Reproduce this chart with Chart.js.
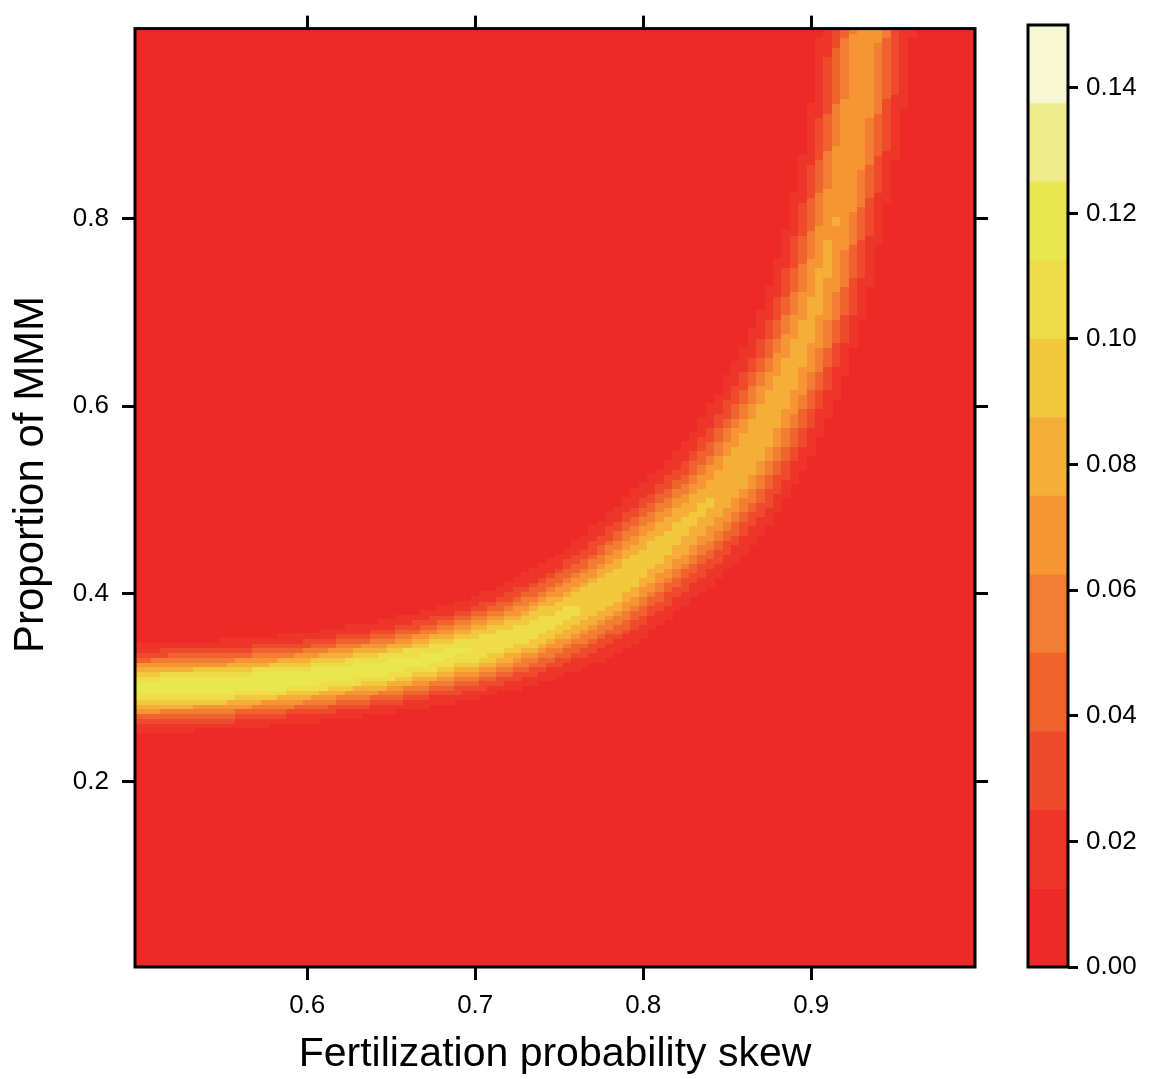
<!DOCTYPE html>
<html>
<head>
<meta charset="utf-8">
<script src="https://cdn.jsdelivr.net/npm/chart.js@4.4.1/dist/chart.umd.min.js"></script>
<style>
  body { margin: 0; background: #fff; }
  #wrap { position: relative; width: 1150px; height: 1079px; }
  #heat { position: absolute; left: 0; top: 0; }
  #key { position: absolute; left: 1000px; top: 0; }
</style>
</head>
<body>
<div id="wrap">
  <canvas id="heat" width="1000" height="1079"></canvas>
  <canvas id="key" width="150" height="1079"></canvas>
</div>
<script>
// axis ranges and ticks
const xRange = [0.4975, 0.9975];
const yRange = [0.0025, 1.0025];
const xTicks = [0.6, 0.7, 0.8, 0.9];
const yTicks = [0.2, 0.4, 0.6, 0.8];
const keyTicks = [0, 0.02, 0.04, 0.06, 0.08, 0.10, 0.12, 0.14];

// cell grid (centres), as in the picture: 100 columns x 200 rows
const cellStep = 0.005;
const gridX0 = 0.5, gridCols = 100;
const gridY0 = 0.005, gridRows = 200;

// colour levels of the key
const levelBreaks = [0, 0.0125, 0.025, 0.0375, 0.05, 0.0625, 0.075, 0.0875, 0.1, 0.1125, 0.125, 0.1375, 0.15];
const levelColors = ['#EE2A29', '#EE3529', '#EF4A2B', '#F0622E', '#F17E32', '#F79433',
                     '#F5AF38', '#F2C83C', '#EEDC48', '#EAE650', '#EEEB8C', '#F7F7D4'];

// the bright ridge: position, peak density, spread
const ridgeX =      [0.48,  0.50,  0.55,  0.60,  0.65,  0.70,  0.73,  0.76,  0.78,  0.80,  0.82,  0.84,  0.855, 0.87,  0.885, 0.895, 0.905, 0.915, 0.922, 0.928, 0.933, 0.936];
const ridgeY =      [0.297, 0.300, 0.303, 0.311, 0.323, 0.342, 0.359, 0.383, 0.404, 0.434, 0.464, 0.497, 0.530, 0.573, 0.625, 0.668, 0.722, 0.800, 0.860, 0.923, 1.000, 1.060];
const ridgePeak =   [0.123, 0.123, 0.123, 0.121, 0.118, 0.112, 0.107, 0.101, 0.097, 0.094, 0.091, 0.088, 0.086, 0.084, 0.081, 0.079, 0.077, 0.075, 0.074, 0.073, 0.072, 0.072];
const ridgeSpread = [0.022, 0.022, 0.022, 0.022, 0.023, 0.025, 0.027, 0.030, 0.032, 0.033, 0.034, 0.034, 0.034, 0.033, 0.032, 0.031, 0.030, 0.029, 0.029, 0.029, 0.029, 0.029];

function densityAt(cx, cy) {
  let best = Infinity, peak = 0, spread = 1;
  for (let i = 0; i < ridgeX.length - 1; i++) {
    const ax = ridgeX[i] * 2, ay = ridgeY[i];
    const dx = ridgeX[i + 1] * 2 - ax, dy = ridgeY[i + 1] - ay;
    let t = ((cx * 2 - ax) * dx + (cy - ay) * dy) / (dx * dx + dy * dy);
    t = Math.max(0, Math.min(1, t));
    const qx = ax + t * dx - cx * 2, qy = ay + t * dy - cy;
    const d2 = qx * qx + qy * qy;
    if (d2 < best) {
      best = d2;
      peak = ridgePeak[i] + t * (ridgePeak[i + 1] - ridgePeak[i]);
      spread = ridgeSpread[i] + t * (ridgeSpread[i + 1] - ridgeSpread[i]);
    }
  }
  return peak * Math.exp(-best / (2 * spread * spread));
}

function levelOf(v) {
  let k = 0;
  while (k < levelColors.length - 1 && v >= levelBreaks[k + 1]) k++;
  return k;
}

const cells = [];
for (let i = 0; i < gridCols; i++) {
  for (let j = 0; j < gridRows; j++) {
    const cx = gridX0 + i * cellStep, cy = gridY0 + j * cellStep;
    const v = densityAt(cx, cy);
    cells.push({ x: cx, y: cy, v: v, level: levelOf(v) });
  }
}

Chart.defaults.font.family = '"Liberation Sans", Arial, Helvetica, sans-serif';
Chart.defaults.color = '#000';

// draws each cell as a rectangle through the chart's scales
const heatmapPlugin = {
  id: 'heatmap',
  beforeDatasetsDraw(chart) {
    const { ctx, chartArea: a, scales: { x, y } } = chart;
    const half = cellStep / 2;
    ctx.save();
    ctx.beginPath();
    ctx.rect(a.left, a.top, a.right - a.left, a.bottom - a.top);
    ctx.clip();
    ctx.fillStyle = levelColors[0];
    ctx.fillRect(a.left, a.top, a.right - a.left, a.bottom - a.top);
    chart.data.datasets[0].data.forEach(c => {
      if (c.level === 0) return;
      const l = Math.floor(x.getPixelForValue(c.x - half));
      const r = Math.ceil(x.getPixelForValue(c.x + half));
      const t = Math.floor(y.getPixelForValue(c.y + half));
      const b = Math.ceil(y.getPixelForValue(c.y - half));
      ctx.fillStyle = levelColors[c.level];
      ctx.fillRect(l, t, r - l, b - t);
    });
    ctx.restore();
  }
};

const framePlugin = {
  id: 'frame',
  afterDraw(chart) {
    const { ctx, chartArea: a } = chart;
    ctx.save();
    ctx.strokeStyle = '#000';
    ctx.lineWidth = 3;
    ctx.strokeRect(a.left, a.top, a.right - a.left, a.bottom - a.top);
    ctx.restore();
  }
};

const tickGrid = { display: true, drawOnChartArea: false, drawTicks: true, tickLength: 13, tickWidth: 3, tickColor: '#000' };

function fixedTicks(list) {
  return scale => { scale.ticks = list.map(v => ({ value: v })); };
}

new Chart(document.getElementById('heat'), {
  type: 'scatter',
  data: {
    datasets: [{ data: cells, pointRadius: 0, pointHoverRadius: 0 }]
  },
  options: {
    responsive: false,
    animation: false,
    events: [],
    layout: { padding: 0 },
    plugins: { legend: { display: false }, tooltip: { enabled: false } },
    scales: {
      x: {
        type: 'linear', position: 'bottom', min: xRange[0], max: xRange[1],
        afterBuildTicks: fixedTicks(xTicks),
        afterFit: s => { s.height = 112; },
        grid: tickGrid, border: { display: false },
        ticks: { padding: 10, font: { size: 26 }, callback: v => v.toFixed(1) },
        title: { display: true, text: 'Fertilization probability skew', font: { size: 41 }, padding: { top: 0, bottom: 0 } }
      },
      xTop: {
        type: 'linear', position: 'top', min: xRange[0], max: xRange[1],
        afterBuildTicks: fixedTicks(xTicks),
        afterFit: s => { s.height = 25; },
        grid: tickGrid, border: { display: false },
        ticks: { display: false }
      },
      y: {
        type: 'linear', position: 'left', min: yRange[0], max: yRange[1],
        afterBuildTicks: fixedTicks(yTicks),
        afterFit: s => { s.width = 135; },
        grid: tickGrid, border: { display: false },
        ticks: { padding: 13, font: { size: 26 }, callback: v => v.toFixed(1) },
        title: { display: true, text: '\u00a0\u00a0\u00a0\u00a0Proportion of MMM', font: { size: 42 }, padding: { top: 6, bottom: 0 } }
      },
      yRight: {
        type: 'linear', position: 'right', min: yRange[0], max: yRange[1],
        afterBuildTicks: fixedTicks(yTicks),
        afterFit: s => { s.width = 25; },
        grid: tickGrid, border: { display: false },
        ticks: { display: false }
      }
    }
  },
  plugins: [heatmapPlugin, framePlugin]
});

new Chart(document.getElementById('key'), {
  type: 'bar',
  data: {
    labels: [''],
    datasets: levelColors.map((c, i) => ({
      data: [[levelBreaks[i], levelBreaks[i + 1]]],
      backgroundColor: c,
      borderWidth: 0,
      grouped: false,
      barPercentage: 1,
      categoryPercentage: 1
    }))
  },
  options: {
    responsive: false,
    animation: false,
    events: [],
    layout: { padding: { left: 28, top: 25, bottom: 112, right: 0 } },
    plugins: { legend: { display: false }, tooltip: { enabled: false } },
    scales: {
      x: { display: false },
      y: {
        position: 'right', min: 0, max: 0.15,
        afterBuildTicks: fixedTicks(keyTicks),
        afterFit: s => { s.width = 82; },
        grid: { display: true, drawOnChartArea: false, drawTicks: true, tickLength: 10, tickWidth: 3, tickColor: '#000' },
        border: { display: false },
        ticks: { padding: 8, font: { size: 26 }, callback: v => v.toFixed(2) }
      }
    }
  },
  plugins: [framePlugin]
});
</script>
</body>
</html>
